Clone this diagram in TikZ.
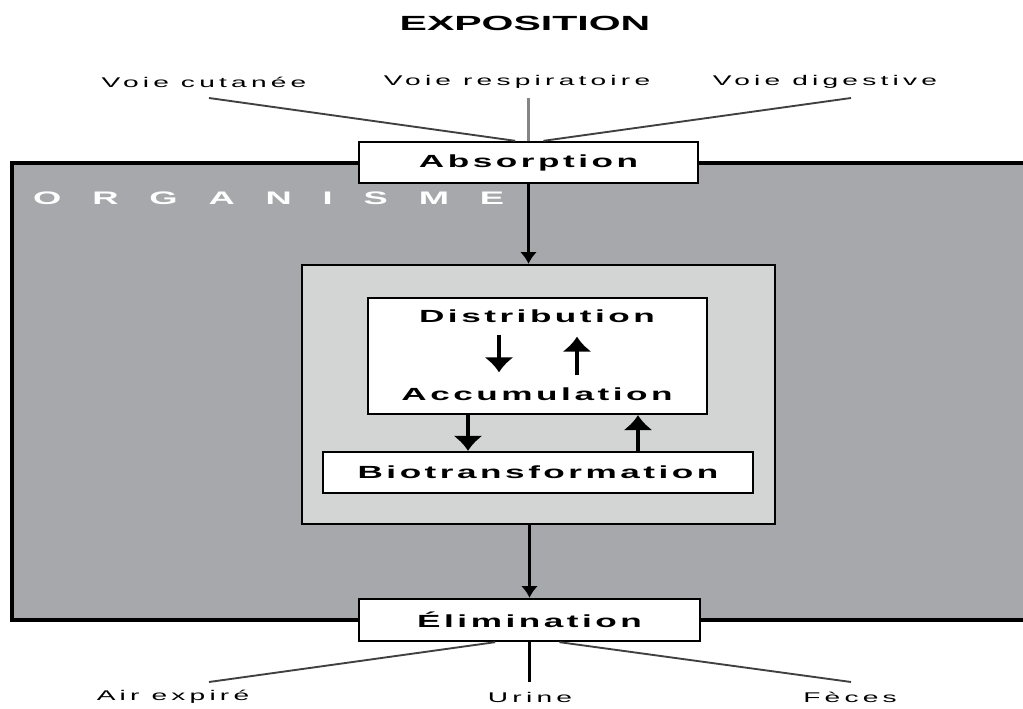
\documentclass[tikz,border=0pt]{standalone}
\usepackage{fontspec}
\setmainfont{Liberation Sans}
\newfontfamily\voiefont[LetterSpace=15]{Liberation Sans}
\newfontfamily\boxfont[LetterSpace=10]{Liberation Sans}
\newfontfamily\titrefont{Liberation Sans}
\newfontfamily\orgfont[LetterSpace=85]{Liberation Sans}
\usetikzlibrary{arrows.meta}
\definecolor{orggris}{HTML}{A6A8AB}
\definecolor{milieugris}{HTML}{D3D5D5}
\definecolor{traitgris}{HTML}{404040}
\definecolor{voiegris}{HTML}{858585}
\newcommand{\etire}[1]{\scalebox{2}[1]{#1}}

\tikzset{
  etape/.style={draw,line width=2pt,fill=white,inner sep=0pt,
    font=\fontsize{15}{18}\selectfont\boxfont\bfseries},
  etiq/.style={inner sep=0pt,font=\fontsize{15}{18}\selectfont\boxfont\bfseries},
  voie/.style={inner sep=0pt,font=\fontsize{12}{14}\selectfont\voiefont},
  titre/.style={inner sep=0pt,font=\fontsize{17.5}{20}\selectfont\titrefont\bfseries},
  orgtxt/.style={inner sep=0pt,text=white,font=\fontsize{15.5}{18}\selectfont\orgfont\bfseries},
  milieu/.style={draw,line width=2pt,fill=milieugris,inner sep=0pt},
  voieligne/.style={traitgris,line width=1.6pt},
  fleche/.style={line width=4pt,-{Latex[length=4.5mm,width=9mm]}}
}

\begin{document}
\begin{tikzpicture}[x=0.3mm,y=-0.3mm,>={Latex[length=3.5mm,width=5mm]}]
\useasboundingbox (0,0) rectangle (1023,709);
\fill[white] (0,0) rectangle (1023,709);

\node[titre] (expo) at (525,23) {\etire{EXPOSITION}};
\node[voie] (cut) at (204,82) {\etire{Voie cutanée}};
\node[voie] (resp) at (517,82) {\etire{Voie respiratoire}};
\node[voie] (dig) at (825,82) {\etire{Voie digestive}};
\coordinate (pc) at (209,98);
\coordinate (pr) at (528.5,98);
\coordinate (pd) at (851,98);

% organisme
\draw[line width=3.4pt,fill=orggris] (12,163) rectangle (1040,620);
\node[orgtxt,anchor=west] (org) at (33,198) {\etire{ORGANISME}};

\node[etape,minimum width=101.7mm,minimum height=12.3mm] (abs) at (528.5,162.5) {\etire{Absorption}};
\draw[voieligne] (pc) -- ([xshift=-4mm]abs.north);
\draw[voiegris,line width=2.5pt] (pr) -- (abs.north);
\draw[voieligne] (pd) -- ([xshift=4.5mm]abs.north);

\node[milieu,minimum width=141.9mm,minimum height=77.7mm] (mil) at (538.5,394.5) {};
\draw[->,line width=1.8pt] (abs.south) -- (abs.south |- mil.north);

\node[etape,minimum width=101.7mm,minimum height=34.8mm] (boite) at (537.5,356) {};
\node[etiq] (dist) at (537,316) {\etire{Distribution}};
\node[etiq] (accu) at (537,394) {\etire{Accumulation}};
\draw[fleche,shorten <=3.6mm,shorten >=4.5mm] ([xshift=-11.4mm]dist.south) -- ([xshift=-11.4mm]dist.south |- accu.north);
\draw[fleche,shorten <=3.6mm,shorten >=4.2mm] ([xshift=12mm]accu.north) -- ([xshift=12mm]accu.north |- dist.south);

\node[etape,minimum width=129mm,minimum height=12.3mm] (bio) at (538,472.5) {\etire{Biotransformation}};
\draw[fleche] ([xshift=-20.85mm]boite.south) -- ([xshift=-20.85mm]boite.south |- bio.north);
\draw[fleche] ([xshift=30.15mm]boite.south |- bio.north) -- ([xshift=30.15mm]boite.south);

\node[etape,minimum width=102.3mm,minimum height=12.6mm] (elim) at (529.5,620) {\etire{Élimination}};
\draw[->,line width=1.8pt] (elim.north |- mil.south) -- (elim.north);

\node[voie] (air) at (173,697) {\etire{Air expiré}};
\node[voie] (uri) at (530,697) {\etire{Urine}};
\node[voie] (fec) at (850,697) {\etire{Fèces}};
\coordinate (qa) at (209,682);
\coordinate (qf) at (851,682);
\draw[voieligne] ([xshift=-10.3mm]elim.south) -- (qa);
\draw[line width=2pt] (elim.south) -- (elim.south |- qa);
\draw[voieligne] ([xshift=9mm]elim.south) -- (qf);
\end{tikzpicture}
\end{document}
